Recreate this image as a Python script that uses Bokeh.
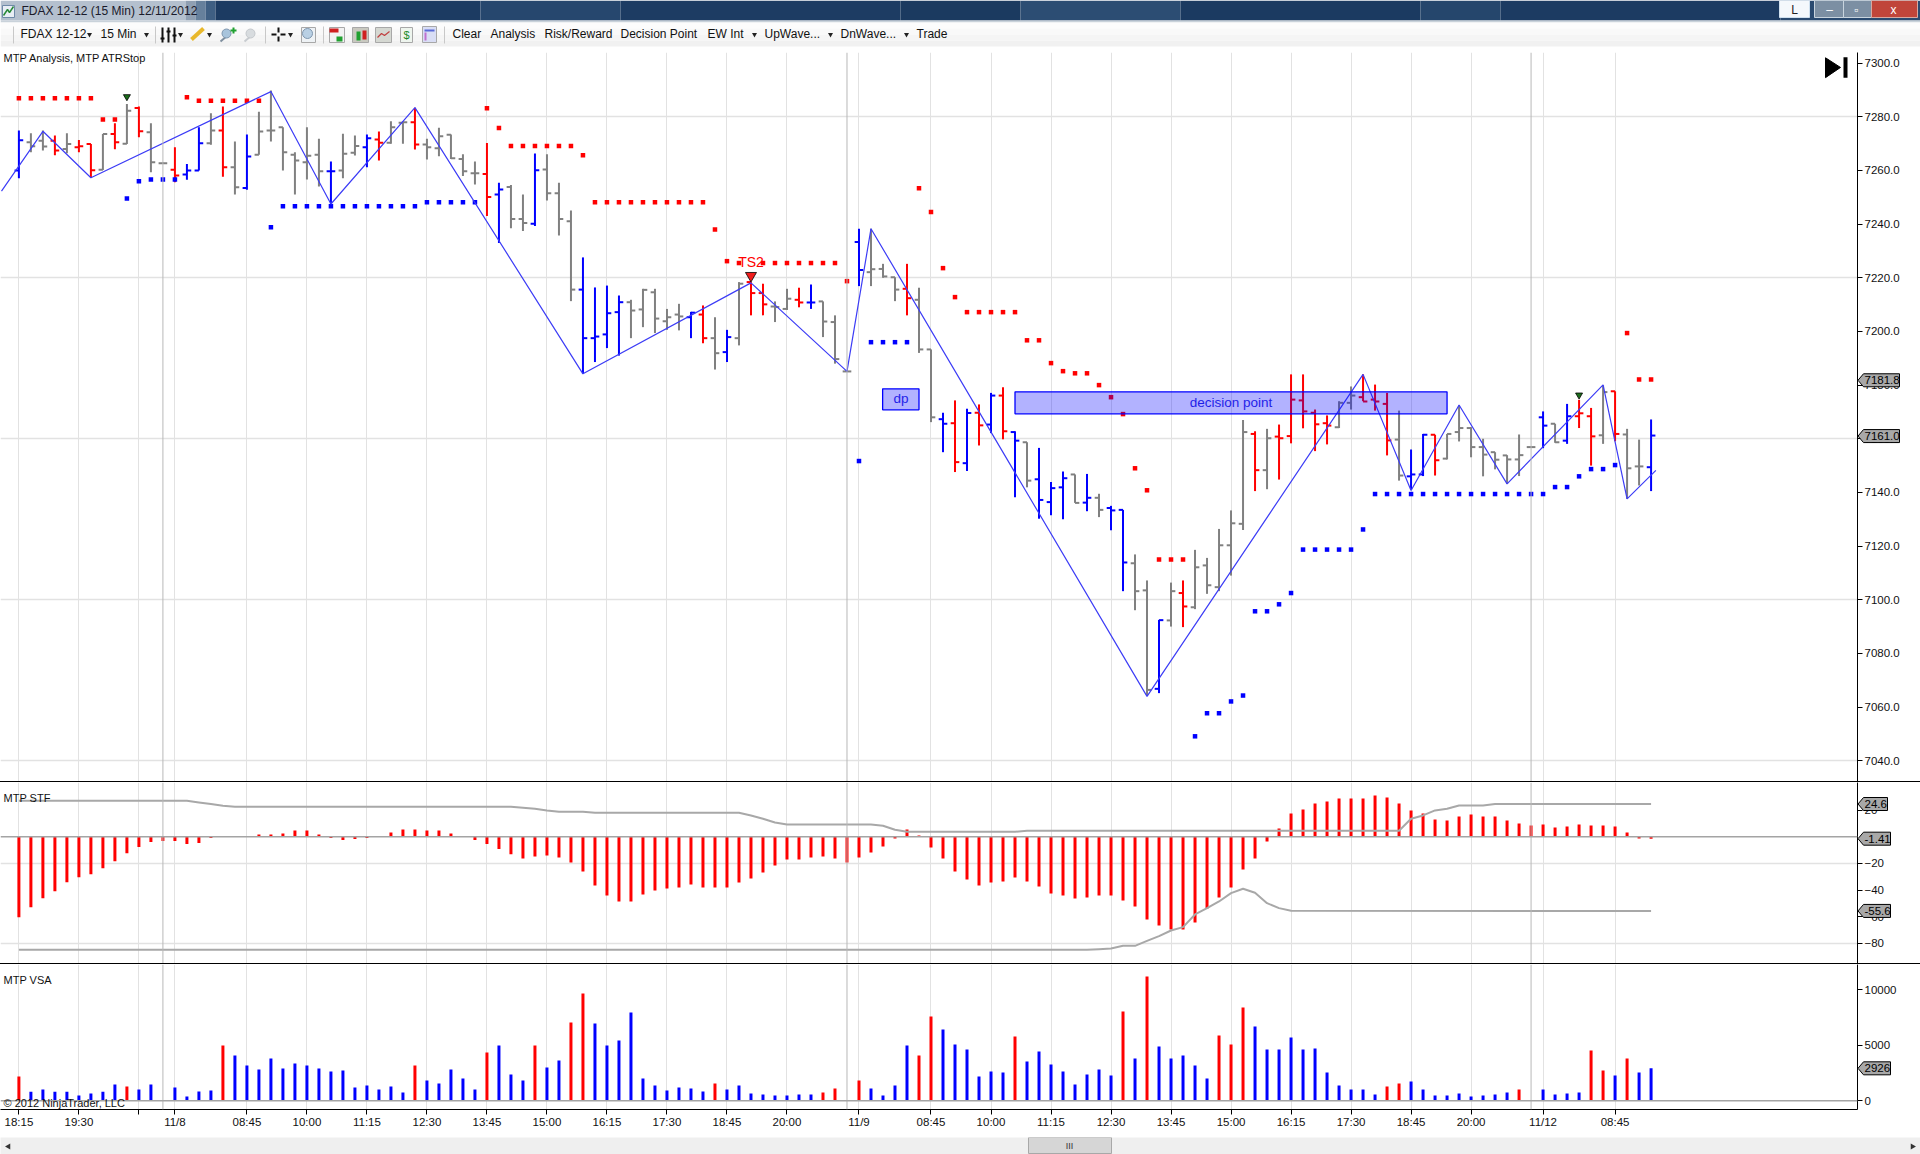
from bokeh.plotting import figure
from bokeh.layouts import column
from bokeh.models import Range1d, FixedTicker, Span, Label, Div
from bokeh.core.properties import value
from bokeh.embed import file_html
from bokeh.resources import INLINE

FONT = "Liberation Sans"

opens = [7260,7270.5,7271.1,7271.1,7268,7268.7,7269.9,7260.3,7273.6,7270,
 7283.3,7274.2,7262.7,7260.3,7258.5,7260,7270.1,7274.9,7261.2,7253.5,
 7265.9,7274.9,7276.1,7265.9,7263.1,7265.9,7259.7,7260,7266.6,7268.7,
 7271.5,7270.3,7277.8,7278,7269.7,7268.3,7273.3,7264.3,7259,7258.7,
 7251,7253.8,7241.9,7240.1,7260.4,7251.5,7241.1,7215.6,7197.5,7198.9,
 7207.2,7210.9,7208.2,7214.6,7203.8,7206.3,7205.3,7206.3,7197.5,7192.3,
 7197.5,7218.4,7214.3,7209.3,7208.4,7211.8,7210.8,7211.2,7203.5,7185.1,
 7233.3,7222.1,7223.3,7220.2,7215.9,7211.8,7193.3,7167.3,7165.8,7150.9,
 7169.7,7165.3,7176.1,7162.5,7158.7,7144.9,7136.4,7141.9,7146.7,7136.2,
 7138,7134.2,7133.5,7113.6,7103.5,7066.8,7092.3,7102.5,7097.2,7112.8,
 7104.7,7120.3,7128.3,7161.8,7148.3,7160.8,7161,7174.3,7169.7,7165.8,
 7164.3,7173.4,7175.5,7174.6,7173,7159.7,7146,7146.7,7161.5,7152.6,
 7162.5,7164,7156.9,7155,7153.8,7152.3,7156.9,7168,7165.6,7159.3,
 7168.4,7168.4,7161.3,7177.7,7161.6,7149.7,7149.4]
highs = [7274.9,7273.9,7274.9,7273,7273.9,7271.4,7269.9,7273.6,7277.6,7284.8,
 7283.8,7277.6,7263,7268.7,7262.4,7276.1,7281.3,7283.8,7270.8,7273.4,
 7281.9,7289.8,7276.1,7266.8,7276.1,7271.8,7263.3,7273.7,7273,7273.4,
 7274.5,7278.3,7278.3,7283.4,7271.8,7275.9,7273.4,7266,7263.3,7270.2,
 7255.4,7254.6,7251,7266.3,7266,7255.4,7245.1,7227.6,7216.4,7217.1,
 7213.4,7211.8,7215.9,7215.9,7208.4,7210.3,7207.3,7209.7,7205.3,7200.6,
 7218.4,7218.4,7217.8,7211.2,7215.9,7216.3,7217.5,7211.2,7206,7185.5,
 7238.3,7238.3,7225.2,7220.2,7225.2,7216.3,7193.3,7169.7,7174.3,7171.2,
 7172.8,7177.1,7179.2,7162.8,7158.7,7156.6,7143.9,7147.8,7146.7,7146.9,
 7139.5,7135,7133.5,7116.9,7107.2,7092.5,7106.4,7107.2,7118.6,7115.6,
 7126.4,7133.3,7167,7162.8,7163.7,7165.3,7184,7184,7170.9,7168.7,
 7174,7179.5,7184,7180.2,7177.1,7170.5,7156,7161.8,7161.5,7161.8,
 7172.4,7164.3,7160,7155,7153.9,7161.6,7157.1,7170.2,7165.6,7173,
 7174.5,7171.5,7179.9,7177.7,7163.7,7159.7,7167.2]
lows = [7257.1,7266.8,7267.4,7265.7,7266.4,7266.8,7257.5,7260.2,7267.9,7269.9,
 7272.4,7259.3,7262.5,7255.6,7256.5,7260,7269.6,7257.7,7251,7252.8,
 7265.9,7270.8,7260,7251,7256.6,7254,7246.9,7257.1,7265.6,7261.2,
 7263.7,7270,7270,7267.8,7264.1,7265.3,7264.3,7257.9,7254.8,7243,
 7233,7238.5,7237.4,7239.3,7248.8,7235.8,7211.3,7184.2,7188.6,7193.8,
 7191,7197.5,7201.6,7199.4,7200.6,7200.4,7197.5,7195.6,7185.8,7188.6,
 7194.8,7206,7206,7203.5,7208,7209,7208.4,7197.9,7188,7185,
 7216.9,7216.9,7220,7211.3,7206,7192,7166.2,7155,7147.6,7148,
 7157.5,7162.1,7159.8,7138.2,7141.9,7130.2,7131.5,7130,7136.1,7133,
 7130.8,7125.9,7103.2,7096.1,7064.3,7065.2,7090,7089.8,7096.5,7102.2,
 7103.2,7109,7126,7140.5,7141.2,7144.8,7158.3,7163.9,7155.4,7157.9,
 7164,7170.9,7174,7170.5,7153.8,7144.4,7141,7146.1,7146.3,7152.3,
 7159,7153.1,7146,7148.6,7143.2,7146.1,7156.7,7156.5,7158.5,7158.1,
 7164,7150,7158.1,7159.1,7137.6,7142.6,7140.5]
closes = [7271.3,7269,7268.9,7267.4,7269.9,7269,7260.1,7273.6,7270.5,7282.3,
 7274.6,7263.1,7262.7,7258.1,7260,7270.1,7274.9,7261.2,7253.7,7265.2,
 7274.5,7274.9,7266.8,7263.7,7265.5,7259.7,7259.7,7266.2,7269.1,7272,
 7270.3,7276.1,7278,7269.7,7268.7,7272.8,7264.6,7259.7,7259,7250.1,
 7252.9,7241.9,7240.4,7260.1,7251.5,7241.9,7215.6,7197.5,7198.1,7206.8,
 7210.9,7207.8,7215.5,7204.8,7205.3,7205.6,7207,7197.5,7191.9,7197.9,
 7217.8,7214.3,7210.1,7209.1,7212.2,7210.8,7210.8,7203.7,7189.7,7185.1,
 7222.9,7223.2,7220.5,7215.6,7212.4,7193.3,7168,7165.6,7151.3,7169.6,
 7165,7176.1,7162.8,7159.3,7144.4,7137.2,7141.6,7145.3,7136.1,7138,
 7133.5,7133.3,7113.9,7103.2,7066.4,7092.4,7103.2,7097.5,7112.1,7105.4,
 7120.3,7128.5,7162.5,7148.3,7160.2,7160.2,7174.6,7170.2,7165.4,7164.9,
 7173.4,7176.1,7173.9,7173.9,7159.4,7146.3,7146.7,7161.5,7152,7161.8,
 7164,7156.9,7154.1,7152.2,7152.3,7153.9,7156.9,7164.9,7158.7,7168.4,
 7169.5,7160.9,7177.4,7161.8,7149,7149.7,7161.2]
bar_codes = ("bggrgrrgrg" "rggrbbgrgb" "ggggggbggb" "rggrgggggr" "bggbgggbbb"
             "bgggggbrgb" "grrggrbggg" "bgggrggbrb" "rbrbgbbbgb" "gbbggbgrgg"
             "gggrgrrrrr" "ggrrrgbbrg" "gggggggbgb" "rrgrggb")

stf_values = [-60.25,-52.75,-46,-40.75,-34,-30.25,-28,-23.5,-18.25,-12.25,
 -7.75,-4,-3.25,-3.25,-5.5,-4.75,-1,-0.25,-0.2,0.25,
 1.75,1.75,2.5,4.75,4.75,1.75,-1,-2.5,-1.75,-1,
 -0.1,3.25,5.5,5.5,4.75,4.75,2.5,0.25,-2.5,-5.5,
 -9.25,-13,-16.25,-14.75,-14,-15.5,-19.25,-26,-36.5,-44,
 -48.5,-48.5,-43.25,-40.25,-38.75,-38,-35.75,-38,-38,-38,
 -34.25,-31.25,-26.75,-21.5,-17,-17,-15.5,-14.75,-16.25,-19.25,
 -15.5,-11.75,-7.25,-1.25,5.5,1,-8,-16.25,-26,-32,
 -36.5,-34.25,-33.5,-30.5,-33.5,-37.25,-42.5,-44,-46.25,-45.5,
 -44,-44,-47.75,-52.25,-62,-66.5,-69.5,-69.5,-64.25,-53.75,
 -45.5,-38,-24.5,-16.25,-3.5,6.25,17.5,20.5,25,26.5,
 28.75,28.75,28.75,31,29.5,25,19.75,17.5,13,12.25,
 15.25,16.75,15.25,15.25,12.25,10,8.5,9.25,7,7.75,
 9.25,8.5,8.5,7.75,3.25,-1.25,-1.41]

upper_x = [0,14,15,16,17,18,41,42,43,44,45,47,48,60,61,62,63,64,71,72,73,74,83,84,115,116,117,118,119,120,122,123,136]
upper_y = [27,27,25.75,24.5,23.25,22.5,22.5,21.75,21,19.75,18.75,18.75,18,18,16,13.5,10.75,9.25,9.25,8.25,5.25,3.75,3.75,4.5,4.5,13.5,16,19.75,21,23.5,23.5,24.6,24.6]
lower_x = [0,89,90,91,92,93,94,95,96,97,98,99,100,101,102,103,104,105,106,136]
lower_y = [-84.75,-84.75,-84.25,-83.75,-81.75,-81.75,-78,-74.5,-70.25,-67.75,-58.25,-53.5,-48.5,-42.25,-39,-42,-49.75,-53.5,-55.5,-55.6]

volumes = [2190,810,1020,810,810,480,660,810,1470,1290,
 1020,1470,0,1200,390,840,930,4980,4080,3180,
 2820,3810,2910,3360,3180,2910,2640,2730,1200,1380,
 1020,1290,750,3180,1830,1560,2820,2010,1020,4350,
 4980,2370,1830,4980,3000,3630,7050,9660,6960,4980,
 5430,7950,2010,1380,930,1200,1110,840,1560,1020,
 1380,660,570,480,480,570,570,750,1110,0,
 1830,1110,480,1380,4980,4080,7590,6420,5070,4620,
 2190,2640,2550,5790,3540,4440,3270,2640,1470,2370,
 2820,2280,8040,3810,11190,4890,3810,4080,3180,2010,
 5880,5070,8400,6690,4620,4620,5700,4620,4710,2550,
 1380,1020,1020,570,1290,1560,1740,1020,480,480,
 660,390,480,570,750,1020,0,1020,570,660,
 750,4530,2730,2280,3810,2550,2926]
vol_codes = ("rbbbbbbbbr" "bbbbbbbrbb" "bbbbbbbbbb" "bbbrbbbbbr" "bbbrbbrrbb"
             "bbbbbbbbrb" "bbbbbbbrrr" "rbbbbrrbbb" "bbbrbbbbbb" "bbrbrbbbbb"
             "rrrbbbbbbb" "bbbbrrbbbb" "bbbbbrbbbb" "brrbrbb")

red_dot_x = [0,1,2,3,4,5,6,7,8,14,15,16,17,18,19,20,39,40,41,42,43,44,45,46,47,
 48,49,50,51,52,53,54,55,56,57,58,59,60,62,63,64,65,66,67,68,69,
 75,76,77,78,79,80,81,82,83,84,85,86,87,88,89,90,91,92,93,94,95,96,97,134,135,136]
red_dot_y = [7286.9,7286.9,7286.9,7286.9,7286.9,7286.9,7286.9,7279,7279,7287.3,7286,7286,7286,7286,7286,7286,7283.2,7275.8,
 7269.1,7269.1,7269.1,7269.1,7269.1,7269.1,7265.7,
 7248.2,7248.2,7248.2,7248.2,7248.2,7248.2,7248.2,7248.2,7248.2,7248.2,7238,7226.2,
 7225.5,7225.5,7225.5,7225.5,7225.5,7225.5,7225.5,7225.5,7218.75,
 7253.4,7244.5,7223.6,7212.8,7207.2,7207.2,7207.2,7207.2,7207.2,7196.7,7196.7,7188.2,7185.2,7184.4,7184.4,7180,7175.5,7169.2,
 7149,7140.8,7115,7115,7115,7199.4,7182.1,7182.1]
blue_dot_x = [9,10,11,12,13,21,22,23,24,25,26,27,28,29,30,31,32,33,34,35,36,37,38,70,71,72,73,74,
 98,99,100,101,102,103,104,105,106,107,108,109,110,111,112,
 113,114,115,116,117,118,119,120,121,122,123,124,125,126,127,128,129,130,131,132,133]
blue_dot_y = [7249.6,7256,7256.6,7256.6,7256.6,7238.8,7246.7,7246.7,7246.7,7246.7,7246.7,7246.7,7246.7,7246.7,7246.7,7246.7,7246.7,7246.7,
 7248.2,7248.2,7248.2,7248.2,7248.2,7151.7,7196,7196,7196,7196,
 7049.1,7057.7,7057.7,7062.1,7064.3,7095.7,7095.7,7098.3,7102.5,7118.7,7118.7,7118.7,7118.7,7118.7,7126.2,
 7139.4,7139.4,7139.4,7139.4,7139.4,7139.4,7139.4,7139.4,7139.4,7139.4,7139.4,7139.4,7139.4,7139.4,7139.4,7142,7142,7146,7148.7,7148.7,7150.2]

zigzag_x = [-1.45,2,6,21,26,33,47,61,69,71,94,112,116,120,124,132,134,136.4]
zigzag_y = [7252.3,7274.6,7257.3,7289.4,7247.5,7283.4,7184.2,7218.1,7185.1,7238.3,7064,7184,7140.7,7172.6,7143.2,7180.1,7137.6,7148.2]

tick_bars = [0,5,10,13,19,24,29,34,39,44,49,54,59,64,70,76,81,86,91,96,101,106,111,116,121,127,133]
tick_labels = ["18:15","19:30","","11/8","08:45","10:00","11:15","12:30","13:45","15:00","16:15","17:30","18:45","20:00",
               "11/9","08:45","10:00","11:15","12:30","13:45","15:00","16:15","17:30","18:45","20:00","11/12","08:45"]
session_bars = [12,69,126]
price_ticks = [7040,7060,7080,7100,7120,7140,7160,7180,7200,7220,7240,7260,7280,7300]
price_grid = [7040,7100,7160,7220,7280]
stf_ticks = [-80,-60,-40,-20,20]
stf_grid = [-80,-20]
vol_ticks = [0,5000,10000]

price_tags = [7181.8, 7161.0]
stf_tags = [24.6, -1.41, -55.6]
vol_tags = [2926]

# page geometry in pixels
W, H, FRAME_W = 1920, 1154, 1857
XL, XR = -1.533, 153.2
def xpx(px):
    return XL + px / FRAME_W * (XR - XL)
def price_y(v):
    return 116.3 + (7280 - v) * 2.683
def stf_y(v):
    return 836.3 - v * 1.3333
def vol_y(v):
    return 1100.3 - v * 0.0111

COL = {"r": "#ff0000", "b": "#0000ff", "g": "#808080"}
GRID = "#e2e2e2"
SESS = "#b8b8b8"

def panel(height, yr, mb=0):
    p = figure(width=W, height=height, x_range=Range1d(XL, XR), y_range=Range1d(*yr),
               output_backend="svg", toolbar_location=None, y_axis_location="right",
               min_border_left=0, min_border_right=W - FRAME_W, min_border_top=0, min_border_bottom=mb)
    p.outline_line_color = None
    p.xgrid.ticker = FixedTicker(ticks=tick_bars)
    p.xaxis.ticker = FixedTicker(ticks=tick_bars)
    p.xgrid.grid_line_color = GRID
    p.xgrid.grid_line_width = 1
    p.ygrid.grid_line_color = GRID
    p.ygrid.grid_line_width = 1.4
    a = p.yaxis[0]
    a.axis_line_color = "black"
    a.axis_line_width = 1
    a.major_tick_line_color = "black"
    a.major_tick_in = 0
    a.major_tick_out = 5
    a.minor_tick_line_color = None
    a.major_label_text_font = FONT
    a.major_label_text_font_size = "11.5px"
    a.major_label_text_color = "#111111"
    a.major_label_standoff = 2
    for b in session_bars:
        p.add_layout(Span(location=b, dimension="height", line_color=SESS, line_width=1))
    return p

def caption(p, px, y, text, size="11px", color="#111111"):
    p.add_layout(Label(x=xpx(px), y=y, text=text, text_font=FONT, text_font_size=size,
                       text_baseline="middle", text_color=color))

# ---- header -------------------------------------------------------------
hd = figure(width=W, height=52, x_range=Range1d(0, W), y_range=Range1d(52, 0),
            output_backend="svg", toolbar_location=None, min_border=0, frame_align=False)
hd.axis.visible = False
hd.grid.visible = False
hd.outline_line_color = None
title_l = [0, 185, 195, 205, 215, 480, 620, 900, 1020, 1180, 1420, 1500, 1780]
title_r = [185, 195, 205, 215, 480, 620, 900, 1020, 1180, 1420, 1500, 1780, 1920]
title_c = ["#b4c0ce", "#8f9fb2", "#66809c", "#3f5f83", "#1c3b62", "#26476e", "#1d3c63", "#1b3a60", "#2c4d73", "#1b3a61", "#25466c", "#1c3b62", "#2a4a70"]
hd.quad(left=title_l, right=title_r, top=[0]*13, bottom=[20]*13, fill_color=title_c, line_color=None)
hd.quad(left=[0], right=[W], top=[20], bottom=[22], fill_color="#c9d2da", line_color=None)
band_t = [22, 28, 34, 40]
band_b = [28, 34, 40, 46]
hd.quad(left=[0]*4, right=[W]*4, top=band_t, bottom=band_b,
        fill_color=["#fcfcfc", "#f9f9f9", "#f5f5f5", "#f1f1f1"], line_color=None)
hd.quad(left=[1779, 1814, 1843, 1871], right=[1809, 1843, 1871, 1917], top=[0]*4, bottom=[17]*4,
        fill_color=["#f4f8fc", "#7c8fa3", "#7c8fa3", "#c0453a"], line_color=["#cfe0ef", "#c8d4de", "#c8d4de", "#d8a8a0"])
hd.text(x=[1794, 1829, 1856, 1893], y=[9]*4, text=["L", "–", "▫", "x"], text_font=value(FONT),
        text_font_size="12px", text_color=["#222222", "white", "white", "white"],
        text_align="center", text_baseline="middle")
hd.text(x=[21], y=[10], text=["FDAX 12-12 (15 Min)  12/11/2012"], text_font=value(FONT),
        text_font_size="12px", text_color="#1a1a2a", text_baseline="middle")
hd.quad(left=[2], right=[14], top=[5], bottom=[17], fill_color="#e8eef5", line_color="#6f8aa8")
hd.line(x=[3, 7, 9, 13], y=[15, 9, 12, 6], line_color="#2a8a3a", line_width=1.5)
toolbar_x = [20, 100, 452, 490, 544, 620, 707, 764, 840, 916]
toolbar_t = ["FDAX 12-12", "15 Min", "Clear", "Analysis", "Risk/Reward", "Decision Point", "EW Int", "UpWave...", "DnWave...", "Trade"]
hd.text(x=toolbar_x, y=[33.5]*10, text=toolbar_t, text_font=value(FONT), text_font_size="12px",
        text_color="#111111", text_baseline="middle")
hd.scatter(x=[89, 146, 180, 209, 290, 754, 830, 906], y=[34]*8, marker="inverted_triangle", size=5,
           fill_color="#222222", line_color=None)
hd.segment(x0=[13, 155, 265, 323, 444], x1=[13, 155, 265, 323, 444], y0=[26]*5, y1=[43]*5, line_color="#c8c8c8")
# bars, pencil, lens and crosshair icons
hd.segment(x0=[162, 168, 174, 160, 166, 172], x1=[162, 168, 174, 164, 170, 176],
           y0=[27, 27, 27, 38, 31, 35], y1=[42, 42, 42, 38, 31, 35], line_color="#111111", line_width=2)
hd.segment(x0=[191], x1=[203], y0=[39], y1=[28], line_color="#e8b82c", line_width=4)
hd.segment(x0=[220, 244], x1=[227, 251], y0=[41, 41], y1=[35, 35], line_color=["#7f8f9f", "#c8ccd0"], line_width=2)
hd.scatter(x=[226, 250], y=[33, 33], marker="circle", size=9, fill_color=["#a8c4dc", "#d8dcdf"], line_color=["#7f97af", "#c4c8cc"])
hd.segment(x0=[233, 230], x1=[233, 236], y0=[27, 30], y1=[33, 30], line_color="#20a030", line_width=2)
hd.segment(x0=[271, 280, 278, 278], x1=[276, 285, 278, 278], y0=[34, 34, 27, 36], y1=[34, 34, 32, 41],
           line_color="#111111", line_width=2)
hd.quad(left=[301, 329, 352, 375, 400, 422], right=[315, 344, 368, 391, 412, 436], top=[27, 27, 27, 27, 27, 26], bottom=[42]*6,
        fill_color=["#eef2f5", "#f2f2f2", "#c9c9c0", "#d5d8d2", "#eef5ee", "#d9def5"], line_color="#a8a8a8")
hd.scatter(x=[307], y=[33], marker="circle", size=10, fill_color="#b9d0e4", line_color="#7f97af")
hd.quad(left=[329, 336, 356, 362], right=[338, 342, 360, 366], top=[28, 36, 31, 30], bottom=[32, 41, 40, 39],
        fill_color=["#d02020", "#20a030", "#20a030", "#d02020"], line_color=None)
hd.line(x=[377, 381, 384, 389], y=[37, 33, 35, 31], line_color="#c04040", line_width=1.2)
hd.text(x=[406], y=[34], text=["$"], text_font=value(FONT), text_font_size="11px", text_color="#1a8a2a",
        text_align="center", text_baseline="middle")
hd.quad(left=[424, 424], right=[434, 426], top=[29, 32], bottom=[31, 40], fill_color=["#5a6ad8", "#c070d0"], line_color=None)

# ---- price panel --------------------------------------------------------
P_TOP, P_BOT = 7303.97, 7032.26
p1 = panel(729, (P_BOT, P_TOP))
p1.xaxis.visible = False
p1.xgrid.bounds = (P_BOT, 7302.8)
p1.ygrid.ticker = FixedTicker(ticks=price_grid)
p1.yaxis.ticker = FixedTicker(ticks=price_ticks)
p1.yaxis.major_label_overrides = {t: f"{t}.0" for t in price_ticks}

n = len(opens)
bx = list(range(n))
bc = [COL[c] for c in bar_codes]
p1.segment(x0=bx, x1=bx, y0=lows, y1=highs, line_color=bc, line_width=2)
p1.segment(x0=[i - 0.36 for i in bx], x1=bx, y0=opens, y1=opens, line_color=bc, line_width=2)
p1.segment(x0=bx, x1=[i + 0.36 for i in bx], y0=closes, y1=closes, line_color=bc, line_width=2)
p1.scatter(x=red_dot_x, y=red_dot_y, marker="square", size=4.5, fill_color="#ff0000", line_color=None)
p1.scatter(x=blue_dot_x, y=blue_dot_y, marker="square", size=4.5, fill_color="#0000ff", line_color=None)
p1.line(x=zigzag_x, y=zigzag_y, line_color="#3c3cf6", line_width=1.2)
# signal markers
p1.scatter(x=[9, 130], y=[7287.5, 7176.3], marker="inverted_triangle", size=7, fill_color="#1c6e1c", line_color="black", line_width=0.8)
p1.scatter(x=[61], y=[7220.8], marker="inverted_triangle", size=11, fill_color="#f01c1c", line_color="black", line_width=0.8)
p1.text(x=[61], y=[7225.9], text=["TS2"], text_font=value(FONT), text_font_size="14px", text_color="#ff0000",
        text_align="center", text_baseline="middle")
# boxes
p1.quad(left=[83, 71.97], right=[119, 75], top=[7177.5, 7178.6], bottom=[7169.3, 7170.8],
        fill_color="#0000ff", fill_alpha=0.3, line_color="#0000ff", line_width=1.3)
p1.text(x=[101, 73.5], y=[7173.5, 7175], text=["decision point", "dp"], text_font=value(FONT), text_font_size="13.5px",
        text_color="#1f1fe8", text_align="center", text_baseline="middle")
# end-of-data glyph
p1.patch(x=[xpx(1825), xpx(1840), xpx(1825)], y=[7302, 7298.4, 7294.6], fill_color="black", line_color="black")
p1.quad(left=[xpx(1843)], right=[xpx(1847)], top=[7302.2], bottom=[7294.6], fill_color="black", line_color=None)
caption(p1, 3, 7301.9, "MTP Analysis, MTP ATRStop")

sep1 = Div(width=W, height=1, margin=0, styles={"background-color": "black"})

# ---- STF panel ----------------------------------------------------------
p2 = panel(181, (-95.0, 40.7))
p2.xaxis.visible = False
p2.ygrid.ticker = FixedTicker(ticks=stf_grid)
p2.yaxis.ticker = FixedTicker(ticks=stf_ticks)
p2.add_layout(Span(location=0, dimension="width", line_color="#a4a4a4", line_width=1.5))
p2.vbar(x=bx, top=stf_values, bottom=0, width=0.25, fill_color="#ff0000", line_color=None)
p2.line(x=upper_x, y=upper_y, line_color="#a8a8a8", line_width=2)
p2.line(x=lower_x, y=lower_y, line_color="#a8a8a8", line_width=2)
caption(p2, 3, 28.8, "MTP STF")

sep2 = Div(width=W, height=1, margin=0, styles={"background-color": "black"})

# ---- volume panel -------------------------------------------------------
p3 = panel(173, (-784, 12279), mb=28)
p3.ygrid.visible = False
p3.yaxis.ticker = FixedTicker(ticks=vol_ticks)
p3.add_layout(Span(location=0, dimension="width", line_color="#a4a4a4", line_width=1.5))
p3.vbar(x=bx, top=volumes, bottom=0, width=0.25, fill_color=[COL[c] for c in vol_codes], line_color=None)
xa = p3.xaxis[0]
xa.major_label_overrides = dict(zip(tick_bars, tick_labels))
xa.axis_line_color = "black"
xa.major_tick_line_color = "black"
xa.major_tick_in = 0
xa.major_tick_out = 5
xa.minor_tick_line_color = None
xa.major_label_text_font = FONT
xa.major_label_text_font_size = "11.5px"
xa.major_label_text_color = "#111111"
xa.major_label_standoff = 1
caption(p3, 3, 10880, "MTP VSA")
caption(p3, 3, -240, "© 2012 NinjaTrader, LLC")

# ---- footer -------------------------------------------------------------
ft = figure(width=W, height=17, x_range=Range1d(0, W), y_range=Range1d(17, 0),
            output_backend="svg", toolbar_location=None, min_border=0, frame_align=False)
ft.axis.visible = False
ft.grid.visible = False
ft.outline_line_color = None
ft.background_fill_color = "#efefef"
ft.border_fill_color = "#efefef"
ft.quad(left=[1028], right=[1111], top=[0], bottom=[16], fill_color="#d6d6d6", line_color="#a8a8a8")
ft.text(x=[1069], y=[8], text=["III"], text_font=value(FONT), text_font_size="9px", text_color="#333333",
        text_align="center", text_baseline="middle")
ft.scatter(x=[8, 1912], y=[9, 9], marker="triangle", size=6, angle=[1.5708, -1.5708],
           fill_color="#333333", line_color=None)

# ---- value tags over the right-hand axes (transparent page-sized layer) ---
ov = figure(width=W, height=H, x_range=Range1d(0, W), y_range=Range1d(H, 0),
            output_backend="svg", toolbar_location=None, min_border=0, frame_align=False,
            styles={"position": "absolute", "left": "0px", "top": "0px", "pointer-events": "none"})
ov.axis.visible = False
ov.grid.visible = False
ov.outline_line_color = None
ov.background_fill_color = None
ov.border_fill_color = None
tag_text = [f"{v:.1f}" for v in price_tags] + ["24.6", "-1.41", "-55.6"] + [str(v) for v in vol_tags]
tag_py = [price_y(v) for v in price_tags] + [stf_y(v) for v in stf_tags] + [vol_y(v) for v in vol_tags]
tag_right = [1899, 1899, 1887, 1890, 1890, 1890]
ov.patches(xs=[[1857.5, 1863, r, r, 1863] for r in tag_right],
           ys=[[y, y - 6.5, y - 6.5, y + 6.5, y + 6.5] for y in tag_py],
           fill_color="#a8a8a8", line_color="black", line_width=1)
ov.text(x=[1864] * 6, y=tag_py, text=tag_text, text_font=value(FONT), text_font_size="11.5px",
        text_color="black", text_baseline="middle")

page = column(hd, p1, sep1, p2, sep2, p3, ft, ov, spacing=0,
              styles={"position": "absolute", "left": "0px", "top": "0px"})
open("out.html", "w").write(file_html(page, INLINE))
